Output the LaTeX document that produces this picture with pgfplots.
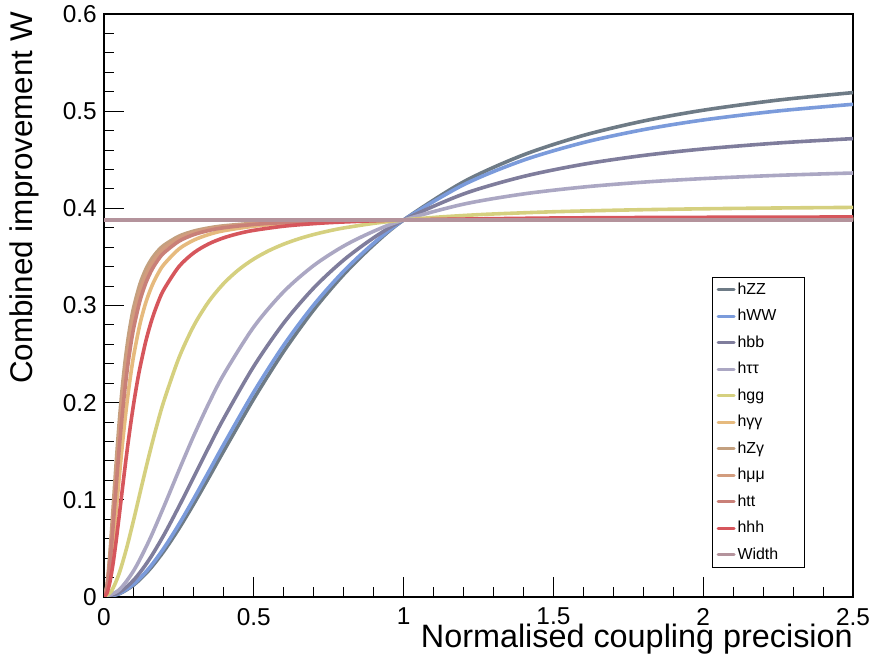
\documentclass[border=0pt]{standalone}
\usepackage{pgfplots}
\pgfplotsset{compat=1.18}
\usepackage{fontspec}
\setmainfont{Liberation Sans}
\definecolor{cZZ}{RGB}{110,123,134}
\definecolor{cWW}{RGB}{123,155,219}
\definecolor{cbb}{RGB}{127,125,156}
\definecolor{ctata}{RGB}{171,167,195}
\definecolor{cgg}{RGB}{213,208,127}
\definecolor{cgaga}{RGB}{230,186,126}
\definecolor{cZga}{RGB}{195,160,127}
\definecolor{cmumu}{RGB}{210,156,126}
\definecolor{ctt}{RGB}{201,128,120}
\definecolor{chhh}{RGB}{214,86,92}
\definecolor{cwidth}{RGB}{180,147,156}
\begin{document}
\begin{tikzpicture}
\useasboundingbox (0,0) rectangle (875bp,666bp);
\begin{axis}[
  at={(104bp,69bp)}, anchor=south west,
  scale only axis, width=749bp, height=583bp,
  xmin=0, xmax=2.5, ymin=0, ymax=0.6,
  xtick={0,0.5,1,1.5,2,2.5}, xticklabels={0,0.5,1,1.5,2,2.5},
  ytick={0,0.1,0.2,0.3,0.4,0.5,0.6}, yticklabels={0,0.1,0.2,0.3,0.4,0.5,0.6},
  minor x tick num=4, minor y tick num=4,
  tick align=inside, tick pos=left,
  major tick length=20bp, minor tick length=10bp,
  every tick/.style={black, line width=1bp},
  axis line style={line width=1.2bp, black},
  /pgf/number format/assume math mode=true,
  ticklabel style={font=\fontsize{24.5}{24.5}\selectfont, inner sep=0pt},
  xticklabel style={yshift=-11bp},
  yticklabel style={xshift=-7bp},
  every axis x label/.style={at={(axis description cs:1,0)}, anchor=north east, inner sep=0pt, yshift=-27bp, font=\fontsize{32.5}{32.5}\selectfont},
  every axis y label/.style={at={(axis description cs:-0.1255,1.0034)}, anchor=north east, rotate=90, inner sep=0pt, font=\fontsize{31.5}{31.5}\selectfont},
  xlabel={Normalised coupling precision},
  ylabel={Combined improvement W},
  legend style={at={(axis description cs:0.8118,0.0503)}, anchor=south west, draw=black, line width=1bp, fill=white,
    font=\fontsize{16}{16}\selectfont, inner xsep=4bp, inner ysep=5bp, row sep=11.5bp, column sep=2bp,
    nodes={inner sep=0pt, text height=12bp, text depth=3bp, text width=63bp}},
  legend cell align=left,
  legend image code/.code={\draw[#1, line width=3bp] (0bp,0bp) -- (16bp,0bp);},
  every axis plot/.append style={line width=3.6bp, line join=round, line cap=round},
  clip=true,
]
% hZZ
\addplot[cZZ, smooth] coordinates {(0,0) (0.05,0.00321) (0.1,0.01261) (0.15,0.02759) (0.2,0.04722) (0.25,0.07041) (0.3,0.09603) (0.35,0.12302) (0.4,0.15047) (0.5,0.20399) (0.6,0.25284) (0.7,0.29551) (0.8,0.33187) (0.9,0.36244) (1.0,0.3880) (1.2,0.42725) (1.4,0.45501) (1.6,0.47505) (1.8,0.48983) (2.0,0.50098) (2.25,0.51140) (2.5,0.51912)};
\addlegendentry{hZZ}
% hWW
\addplot[cWW, smooth] coordinates {(0,0) (0.05,0.00345) (0.1,0.01353) (0.15,0.02952) (0.2,0.05033) (0.25,0.07471) (0.3,0.10140) (0.35,0.12923) (0.4,0.15724) (0.5,0.21103) (0.6,0.25919) (0.7,0.30056) (0.8,0.33528) (0.9,0.36413) (1.0,0.3880) (1.2,0.42424) (1.4,0.44955) (1.6,0.46767) (1.8,0.48095) (2.0,0.49093) (2.25,0.50021) (2.5,0.50707)};
\addlegendentry{hWW}
% hbb
\addplot[cbb, smooth] coordinates {(0,0) (0.05,0.00455) (0.1,0.01770) (0.15,0.03811) (0.2,0.06389) (0.25,0.09304) (0.3,0.12368) (0.35,0.15434) (0.4,0.18392) (0.5,0.23745) (0.6,0.28203) (0.7,0.31804) (0.8,0.34677) (0.9,0.36967) (1.0,0.3880) (1.2,0.41479) (1.4,0.43280) (1.6,0.44536) (1.8,0.45440) (2.0,0.46109) (2.25,0.46725) (2.5,0.47175)};
\addlegendentry{hbb}
% htautau
\addplot[ctata, smooth] coordinates {(0,0) (0.05,0.00723) (0.1,0.02759) (0.15,0.05763) (0.2,0.09312) (0.25,0.13024) (0.3,0.16623) (0.35,0.19947) (0.4,0.22922) (0.5,0.27797) (0.6,0.31428) (0.7,0.34115) (0.8,0.36119) (0.9,0.37636) (1.0,0.3880) (1.2,0.40430) (1.4,0.41481) (1.6,0.42192) (1.8,0.42695) (2.0,0.43061) (2.25,0.43395) (2.5,0.43636)};
\addlegendentry{hττ}
% hgg
\addplot[cgg, smooth] coordinates {(0,0) (0.025,0.00621) (0.05,0.02374) (0.075,0.04975) (0.1,0.08070) (0.125,0.11335) (0.15,0.14527) (0.175,0.17498) (0.2,0.20176) (0.25,0.24605) (0.3,0.27936) (0.35,0.30419) (0.4,0.32282) (0.45,0.33696) (0.5,0.34786) (0.55,0.35639) (0.6,0.36317) (0.65,0.36862) (0.7,0.37307) (0.75,0.37673) (0.8,0.37979) (0.9,0.38453) (1.0,0.3880) (1.1,0.39061) (1.2,0.39261) (1.3,0.39419) (1.5,0.39647) (1.75,0.39832) (2.0,0.39953) (2.25,0.40036) (2.5,0.40095)};
\addlegendentry{hgg}
% hgamgam
\addplot[cgaga, smooth] coordinates {(0,0) (0.01,0.00685) (0.02,0.02601) (0.03,0.05402) (0.04,0.08670) (0.05,0.12042) (0.06,0.15268) (0.07,0.18208) (0.08,0.20809) (0.09,0.23069) (0.1,0.25011) (0.12,0.28092) (0.14,0.30347) (0.16,0.32014) (0.18,0.33267) (0.2,0.34226) (0.25,0.35809) (0.3,0.36732) (0.35,0.37311) (0.4,0.37698) (0.5,0.38162) (0.6,0.38420) (0.8,0.38679) (1.0,0.3880) (1.5,0.38921) (2.0,0.38963) (2.5,0.38982)};
\addlegendentry{hγγ}
% hZgam
\addplot[cZga, smooth] coordinates {(0,0) (0.01,0.01255) (0.02,0.04578) (0.03,0.08981) (0.04,0.13536) (0.05,0.17689) (0.06,0.21227) (0.07,0.24138) (0.08,0.26496) (0.09,0.28398) (0.1,0.29936) (0.12,0.32207) (0.14,0.33751) (0.16,0.34834) (0.18,0.35618) (0.2,0.36201) (0.25,0.37134) (0.3,0.37661) (0.35,0.37986) (0.4,0.38200) (0.5,0.38455) (0.6,0.38595) (0.8,0.38735) (1.0,0.3880) (1.5,0.38865) (2.0,0.38887) (2.5,0.38898)};
\addlegendentry{hZγ}
% hmumu
\addplot[cmumu, smooth] coordinates {(0,0) (0.01,0.01112) (0.02,0.04098) (0.03,0.08148) (0.04,0.12458) (0.05,0.16497) (0.06,0.20022) (0.07,0.22984) (0.08,0.25425) (0.09,0.27422) (0.1,0.29054) (0.12,0.31495) (0.14,0.33177) (0.16,0.34368) (0.18,0.35234) (0.2,0.35882) (0.25,0.36923) (0.3,0.37515) (0.35,0.37880) (0.4,0.38122) (0.5,0.38409) (0.6,0.38568) (0.8,0.38726) (1.0,0.3880) (1.5,0.38873) (2.0,0.38899) (2.5,0.38911)};
\addlegendentry{hμμ}
% htt
\addplot[ctt, smooth] coordinates {(0,0) (0.01,0.00950) (0.02,0.03541) (0.03,0.07155) (0.04,0.11130) (0.05,0.14983) (0.06,0.18452) (0.07,0.21447) (0.08,0.23972) (0.09,0.26077) (0.1,0.27825) (0.12,0.30487) (0.14,0.32353) (0.16,0.33691) (0.18,0.34674) (0.2,0.35414) (0.25,0.36612) (0.3,0.37298) (0.35,0.37723) (0.4,0.38005) (0.5,0.38342) (0.6,0.38527) (0.8,0.38713) (1.0,0.3880) (1.5,0.38886) (2.0,0.38916) (2.5,0.38930)};
\addlegendentry{htt}
% hhh
\addplot[chhh, smooth] coordinates {(0,0) (0.01,0.00408) (0.02,0.01583) (0.03,0.03390) (0.04,0.05646) (0.05,0.08160) (0.06,0.10764) (0.07,0.13328) (0.08,0.15766) (0.09,0.18026) (0.1,0.20087) (0.11,0.21942) (0.12,0.23600) (0.14,0.26381) (0.16,0.28567) (0.18,0.30288) (0.2,0.31651) (0.25,0.34001) (0.3,0.35429) (0.35,0.36350) (0.4,0.36973) (0.45,0.37413) (0.5,0.37735) (0.6,0.38162) (0.7,0.38424) (0.8,0.38596) (1.0,0.3880) (1.5,0.39004) (2.0,0.39076) (2.5,0.39109)};
\addlegendentry{hhh}
% Width
\addplot[cwidth] coordinates {(0,0.388) (2.5,0.388)};
\addlegendentry{Width}
\end{axis}
\end{tikzpicture}
\end{document}
